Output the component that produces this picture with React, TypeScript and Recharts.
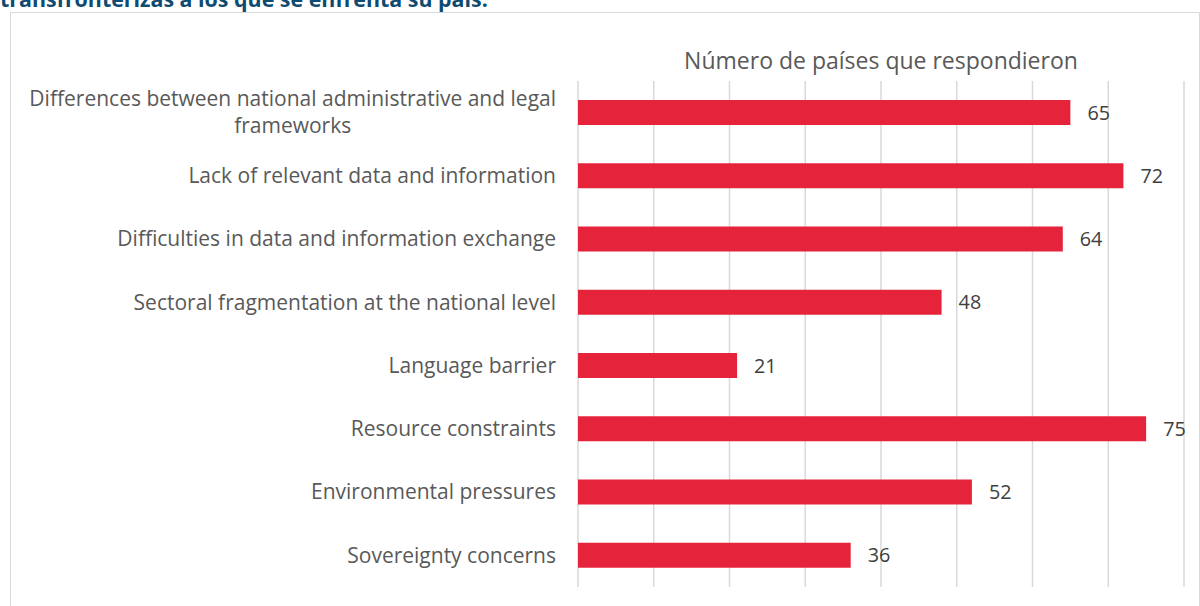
import React from "react"
import {Bar, BarChart, CartesianGrid, LabelList, XAxis, YAxis} from "recharts"

const categories = [
    "Differences between national administrative and legal frameworks",
    "Lack of relevant data and information",
    "Difficulties in data and information exchange",
    "Sectoral fragmentation at the national level",
    "Language barrier",
    "Resource constraints",
    "Environmental pressures",
    "Sovereignty concerns",
]
const countries = [65, 72, 64, 48, 21, 75, 52, 36]
const xTicks = [0, 10, 20, 30, 40, 50, 60, 70, 80]

const heading = "transfronterizas a los que se enfrenta su país:"
const axisTitle = "Número de países que respondieron"

const FONT = "'Open Sans', sans-serif"
const LABEL_SIZE = 21
const VALUE_SIZE = 19.8
const MAX_CHARS = 56

const data = categories.map((name, i) => ({name, value: countries[i]}))

// greedy word wrap, Excel breaks the first label after "legal"
function wrap(label: string) {
    const lines: string[] = []
    let cur = ""
    for (const w of label.split(" ")) {
        const next = cur ? cur + " " + w : w
        if (next.length > MAX_CHARS && cur) {
            lines.push(cur)
            cur = w
        } else {
            cur = next
        }
    }
    if (cur) lines.push(cur)
    return lines
}

let ctx: CanvasRenderingContext2D | null = null
function textWidth(s: string) {
    if (!ctx) ctx = document.createElement("canvas").getContext("2d")
    if (!ctx) return s.length * LABEL_SIZE * 0.5
    ctx.font = `${LABEL_SIZE}px ${FONT}`
    return ctx.measureText(s).width
}

function CategoryTick(props: any) {
    const {x, y, payload} = props
    const lines = wrap(String(payload.value))
    const lh = 27
    const first = y - ((lines.length - 1) * lh) / 2 + LABEL_SIZE * 0.34
    const right = x - 22
    // wrapped lines are centred inside a right-aligned block
    const blockW = Math.max(...lines.map(textWidth))
    const cx = lines.length > 1 ? right - blockW / 2 : right
    return (
        <text x={cx} y={first} textAnchor={lines.length > 1 ? "middle" : "end"} fill="#595959" style={{fontFamily: FONT, fontSize: LABEL_SIZE}}>
            {lines.map((l, i) => (
                <tspan key={i} x={cx} dy={i === 0 ? 0 : lh}>{l}</tspan>
            ))}
        </text>
    )
}

export default function App() {
    return (
        <div style={{position: "absolute", left: 0, top: 0, width: 1200, height: 606, overflow: "hidden", background: "#fff", fontFamily: FONT}}>
            <div style={{position: "absolute", left: 0, top: -12, fontSize: 21.4, lineHeight: "21.4px", fontWeight: 700, color: "#0f4b70", whiteSpace: "nowrap"}}>
                {heading}
            </div>
            <div style={{position: "absolute", left: 10, top: 12, width: 1190, height: 700, boxSizing: "border-box", border: "1px solid #d9d9d9"}}/>
            <div style={{position: "absolute", left: 578, width: 606, top: 46, textAlign: "center", fontSize: 23, lineHeight: "28px", color: "#595959", whiteSpace: "nowrap"}}>
                {axisTitle}
            </div>
            <div style={{position: "absolute", left: 0, top: 0}}>
                <BarChart
                    width={1200}
                    height={606}
                    data={data}
                    layout="vertical"
                    margin={{top: 81, right: 16, bottom: 19, left: 0}}
                    barCategoryGap={19}
                >
                    <CartesianGrid horizontal={false} stroke="#d9d9d9" strokeWidth={1.5}/>
                    <XAxis type="number" domain={[0, 80]} ticks={xTicks} hide/>
                    <YAxis
                        type="category"
                        dataKey="name"
                        width={578}
                        axisLine={false}
                        tickLine={false}
                        tickSize={0}
                        tickMargin={0}
                        tick={<CategoryTick/>}
                        interval={0}
                    />
                    <Bar dataKey="value" fill="#e5243b" barSize={25} isAnimationActive={false}>
                        <LabelList
                            dataKey="value"
                            position="right"
                            offset={17}
                            fill="#404040"
                            style={{fontFamily: FONT, fontSize: VALUE_SIZE}}
                        />
                    </Bar>
                </BarChart>
            </div>
        </div>
    )
}
